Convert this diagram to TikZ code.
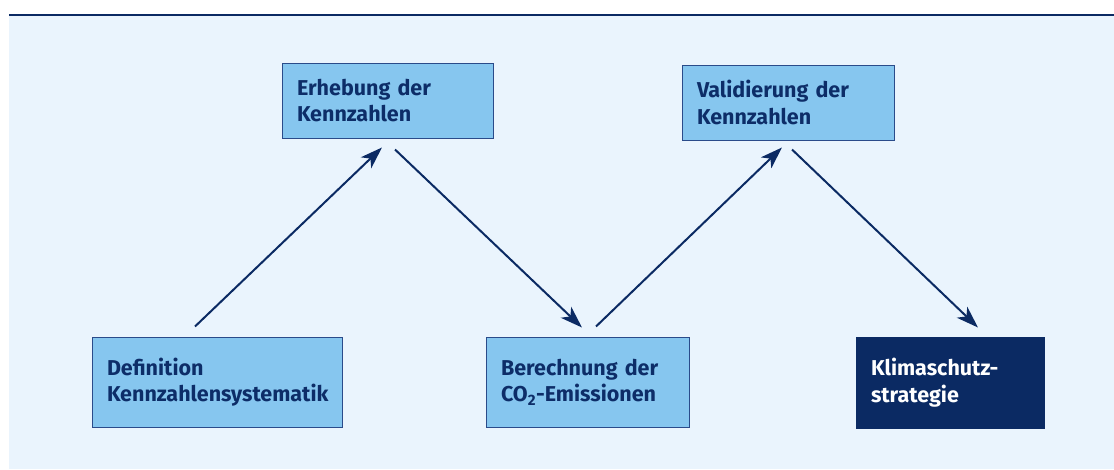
\documentclass[tikz,border=0pt]{standalone}
\usepackage{fontspec}
\setmainfont{Fira Sans}
\usetikzlibrary{arrows.meta,calc}
\definecolor{bgblue}{HTML}{EAF4FD}
\definecolor{boxblue}{HTML}{86C6EF}
\definecolor{edgeblue}{HTML}{2A4B8A}
\definecolor{navy}{HTML}{0B2A63}
\definecolor{txtblue}{HTML}{0D2D68}
\tikzset{
  stepbox/.style={draw=edgeblue, line width=1pt, fill=boxblue, text=txtblue,
    font=\fontsize{21.5}{26.5}\selectfont\bfseries, align=left, inner xsep=15pt, inner ysep=0pt,
    anchor=center},
  darkbox/.style={stepbox, draw=navy, fill=navy, text=white},
  flow/.style={draw=navy, line width=2pt, arrows={-Stealth[length=22pt,width=15pt,inset=6pt]}}
}
\begin{document}
\begin{tikzpicture}
\begin{scope}[x=1pt,y=-1pt]
\useasboundingbox (0,0) rectangle (1114,469);
\fill[bgblue] (9,16) rectangle (1114,469);
\draw[navy, line width=2.2pt] (9,15) -- (1114,15);

\node[stepbox, text width=181pt, minimum height=75pt] (erh) at (387.5,100.5) {Erhebung der\\Kennzahlen};
\node[stepbox, text width=182pt, minimum height=75pt] (val) at (788,102.5) {Validierung der\\Kennzahlen};
\node[stepbox, text width=220pt, minimum height=90pt] (def) at (217,382) {Definition\\Kennzahlensystematik};
\node[stepbox, text width=173pt, minimum height=90pt] (ber) at (587.5,382) {Berechnung der\\CO\textsubscript{2}-Emissionen};
\node[darkbox, text width=158pt, minimum height=91pt] (kli) at (950,382.5) {Klimaschutz-\\strategie};

\coordinate (a1s) at ($(def.north)+(-22,-10)$);
\coordinate (a1e) at ($(erh.south)+(-5.5,9)$);
\coordinate (a2s) at ($(erh.south)+(7.5,11)$);
\coordinate (a2e) at ($(ber.north)+(-5.5,-9)$);
\coordinate (a3s) at ($(ber.north)+(8.5,-10)$);
\coordinate (a3e) at ($(val.south)+(-6,7)$);
\coordinate (a4s) at ($(val.south)+(4,9)$);
\coordinate (a4e) at ($(kli.north)+(28,-9)$);
\end{scope}

\draw[flow] (a1s) -- (a1e);
\draw[flow] (a2s) -- (a2e);
\draw[flow] (a3s) -- (a3e);
\draw[flow] (a4s) -- (a4e);
\end{tikzpicture}
\end{document}
